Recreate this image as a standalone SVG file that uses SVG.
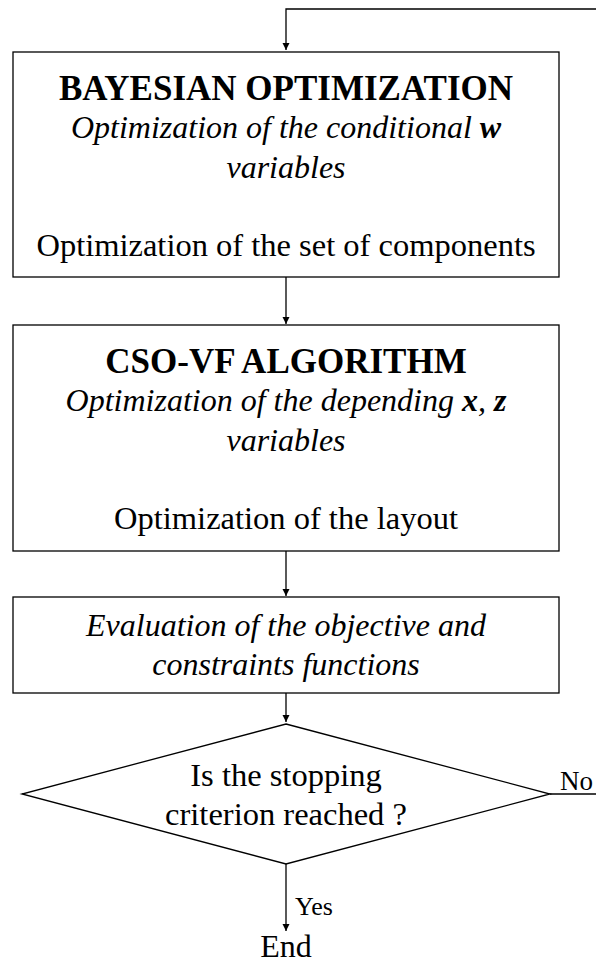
<svg xmlns="http://www.w3.org/2000/svg" width="596" height="963" viewBox="0 0 596 963">
<defs>
<marker id="ah" markerWidth="8" markerHeight="8" refX="7" refY="3.5" orient="auto" markerUnits="userSpaceOnUse">
<path d="M0,0 L7,3.5 L0,7 Z" fill="#000"/>
</marker>
<style>
.box{fill:#fff;stroke:#000;stroke-width:1.3}
.ln{fill:none;stroke:#000;stroke-width:1.3}
text{font-family:"Liberation Serif","Times New Roman",serif;fill:#000;text-anchor:middle}
.t{font-weight:bold;font-size:35px}
.i{font-style:italic;font-size:32px}
.r{font-size:32.5px}
.bi{font-weight:bold;font-style:italic}
</style>
</defs>
<rect width="596" height="963" fill="#fff"/>
<g id="connectors">
<path class="ln" d="M596,9 H286 V50" marker-end="url(#ah)"/>
<path class="ln" d="M286,277 V324" marker-end="url(#ah)"/>
<path class="ln" d="M286,551 V596" marker-end="url(#ah)"/>
<path class="ln" d="M286,693 V722" marker-end="url(#ah)"/>
<path class="ln" d="M550,794 H596"/>
<path class="ln" d="M286,864 V931" marker-end="url(#ah)"/>
<text x="560" y="790" style="font-size:27px;text-anchor:start">No</text>
<text x="295" y="915" style="font-size:26px;text-anchor:start">Yes</text>
</g>
<g id="bayesian">
<rect class="box" x="13" y="52" width="546" height="225"/>
<text class="t" x="286" y="100">BAYESIAN OPTIMIZATION</text>
<text class="i" x="286" y="138">Optimization of the conditional <tspan class="bi">w</tspan></text>
<text class="i" x="286" y="178">variables</text>
<text class="r" x="286" y="256">Optimization of the set of components</text>
</g>
<g id="csovf">
<rect class="box" x="13" y="325" width="546" height="226"/>
<text class="t" x="286" y="373">CSO-VF ALGORITHM</text>
<text class="i" x="286" y="411">Optimization of the depending <tspan class="bi">x</tspan>, <tspan class="bi">z</tspan></text>
<text class="i" x="286" y="451">variables</text>
<text class="r" x="286" y="529">Optimization of the layout</text>
</g>
<g id="evaluation">
<rect class="box" x="13" y="597" width="546" height="96"/>
<text class="i" x="286" y="636">Evaluation of the objective and</text>
<text class="i" x="286" y="675">constraints functions</text>
</g>
<g id="decision">
<polygon class="box" points="286,724 550,794 286,864 22,794"/>
<text class="r" x="286" y="786">Is the stopping</text>
<text class="r" x="286" y="825">criterion reached ?</text>
</g>
<g id="end">
<text x="286" y="957" style="font-size:32px">End</text>
</g>
</svg>
